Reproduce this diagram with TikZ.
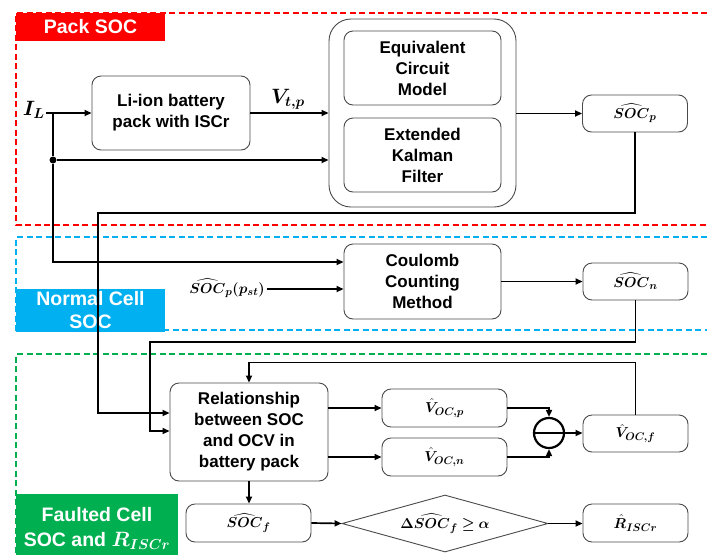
\documentclass[tikz,border=0pt]{standalone}
\usepackage{fontspec}
\setmainfont{Liberation Sans}
\usepackage{amsmath}
\usepackage{bm}
\usetikzlibrary{arrows.meta,shapes.geometric,calc}

\definecolor{packred}{HTML}{FF0000}
\definecolor{normblue}{HTML}{00B0F0}
\definecolor{faultgreen}{HTML}{00B050}
\definecolor{boxline}{HTML}{4A4A4A}

\newcommand\blockfont{\fontsize{17}{21}\selectfont\bfseries}
\newcommand\tagfont{\fontsize{19.5}{23}\selectfont\bfseries}
\newcommand\symfont{\fontsize{15.5}{18}\selectfont}

\tikzset{
  block/.style={draw=boxline, line width=0.9pt, rounded corners=9pt,
    align=center, font=\blockfont, inner sep=0pt},
  symbox/.style={block, font=\symfont},
  conn/.style={line width=1.7pt, -{Triangle[length=7pt,width=6pt]}},
  wire/.style={line width=1.7pt},
  regionline/.style={line width=2.3pt, dash pattern=on 6pt off 3.5pt},
  tagtext/.style={text=white, font=\tagfont, align=center, inner sep=0pt},
  sym/.style={font=\symfont, inner sep=2pt},
}

\begin{document}
\begin{tikzpicture}[x=1pt,y=-1pt]
\useasboundingbox (0,0) rectangle (707,555);

% dashed frames of the three stages
\draw[regionline, packred] (707,13) -- (16,13) -- (16,225) -- (707,225);
\draw[regionline, normblue] (707,237) -- (16,237) -- (16,330) -- (707,330);
\draw[regionline, faultgreen] (707,354) -- (16,354) -- (16,555);

% stage tags
\fill[packred] (16,13) rectangle (165,41);
\node[tagtext] (tagpack) at (90.5,27) {Pack SOC};
\fill[normblue] (16,289) rectangle (165,332);
\node[tagtext] (tagnorm) at (90.5,310.5) {Normal Cell\\SOC};
\fill[faultgreen] (16,494) rectangle (178,555);
\node[tagtext, anchor=north, font=\fontsize{19.5}{25}\selectfont\bfseries] (tagfault) at (97,507)
  {Faulted Cell\\SOC and $\bm{R_{ISCr}}$};

% pack SOC estimation
\node[block, minimum width=158pt, minimum height=74pt] (li) at (171,113)
  {Li-ion battery\\pack with ISCr};
\node[draw=boxline, line width=0.9pt, rounded corners=22pt, minimum width=187pt,
  minimum height=188pt, inner sep=0pt] (outer) at (422.5,113) {};
\node[block, minimum width=157pt, minimum height=74pt] (ecm) at (422.5,68)
  {Equivalent\\Circuit\\Model};
\node[block, minimum width=157pt, minimum height=74pt] (ekf) at (422.5,155)
  {Extended\\Kalman\\Filter};
\node[symbox, minimum width=105pt, minimum height=37pt] (socp) at (635,113.5)
  {$\bm{\widehat{SOC}_p}$};

\node[sym, anchor=east, font=\fontsize{19.5}{22}\selectfont, inner sep=1pt] (IL) at (46,110) {$\bm{I_L}$};
\node[sym, anchor=base, font=\fontsize{19.5}{22}\selectfont] (vtp) at (288,103) {$\bm{V_{t,p}}$};
\coordinate (jt) at (53,113);
\node[circle, fill, inner sep=0pt, minimum size=7pt] (dot) at (53,160) {};

% normal cell SOC estimation
\node[block, minimum width=157pt, minimum height=75pt] (cc) at (422.5,281.5)
  {Coulomb\\Counting\\Method};
\node[symbox, minimum width=105pt, minimum height=37pt] (socn) at (635.5,281.5)
  {$\bm{\widehat{SOC}_n}$};
\node[sym, anchor=base] (socpst) at (227,293) {$\bm{\widehat{SOC}_p(p_{st})}$};

% faulted cell SOC and ISCr resistance
\node[block, minimum width=158pt, minimum height=98pt] (rel) at (249,432)
  {Relationship\\between SOC\\and OCV in\\battery pack};
\node[symbox, minimum width=125pt, minimum height=38pt] (vocp) at (444.5,408)
  {$\bm{\hat{V}_{OC,p}}$};
\node[symbox, minimum width=125pt, minimum height=38pt] (vocn) at (444.5,457)
  {$\bm{\hat{V}_{OC,n}}$};
\node[circle, draw, line width=2.2pt, minimum size=30pt, inner sep=0pt] (sub) at (549,433) {};
\draw[line width=2.2pt] (sub.west) -- (sub.east);
\node[symbox, minimum width=105pt, minimum height=37pt] (vocf) at (635.5,433.5)
  {$\bm{\hat{V}_{OC,f}}$};
\node[symbox, minimum width=125pt, minimum height=38pt] (socf) at (248.5,523)
  {$\bm{\widehat{SOC}_f}$};
\node[diamond, draw=boxline, line width=0.9pt, shape aspect=3.6, minimum width=206pt,
  minimum height=57pt, inner sep=0pt, font=\symfont] (dia) at (445,523.5)
  {$\bm{\Delta\widehat{SOC}_f\geq \alpha}$};
\node[symbox, minimum width=105pt, minimum height=38pt] (risc) at (635.5,523)
  {$\bm{\hat{R}_{ISCr}}$};

% connectors: pack stage
\draw[conn] (IL.east |- li.west) -- (li.west);
\draw[conn] (li.east) -- (outer.west |- li.east);
\draw[wire] (jt) -- (dot);
\draw[conn] (dot) -- (dot -| outer.west);
\draw[conn] (outer.east |- socp.west) -- (socp.west);

% connectors: normal cell stage
\coordinate (ccin1) at ($(cc.west)+(0,-19.5)$);
\coordinate (ccin2) at ($(cc.west)+(0,7.5)$);
\draw[conn] (dot) |- (ccin1);
\draw[conn] (socpst.east |- ccin2) -- (ccin2);
\draw[conn] (cc.east) -- (socn.west);

% connectors: SOC feeds into the fault stage
\coordinate (relin1) at ($(rel.west)+(0,-19)$);
\coordinate (relin2) at ($(rel.west)+(0,-1)$);
\coordinate (bendp) at (98,213);
\coordinate (bendn) at (150,342);
\draw[conn] (socp.south) |- (bendp) |- (relin1);
\draw[conn] (socn.south) |- (bendn) |- (relin2);

% connectors: fault stage
\coordinate (fbturn) at ($(rel.north)+(0,-20)$);
\draw[conn] (vocf.north) |- (fbturn) -- (rel.north);
\draw[conn] (vocp.west -| rel.east) -- (vocp.west);
\draw[conn] (vocn.west -| rel.east) -- (vocn.west);
\draw[conn] (vocp.east) -| (sub.north);
\draw[conn] (vocn.east) -| (sub.south);
\draw[conn] (sub.east) -- (sub.east -| vocf.west);
\draw[conn] (rel.south) -- (rel.south |- socf.north);
\draw[conn] (socf.east) -- (dia.west);
\draw[conn] (dia.east) -- (dia.east -| risc.west);
\end{tikzpicture}
\end{document}
